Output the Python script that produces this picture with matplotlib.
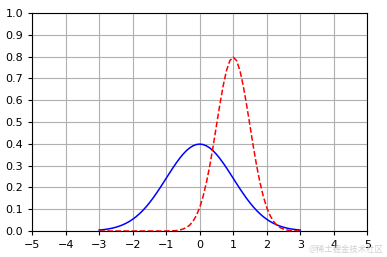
import matplotlib.pyplot as plt
import numpy as np

# sample positions (x) and curve heights
x = np.round(np.arange(-3.0, 3.01, 0.1), 1)
y_blue = [0.0044, 0.0060, 0.0079, 0.0104, 0.0136, 0.0175, 0.0224, 0.0283, 0.0355, 0.0440,
          0.0540, 0.0656, 0.0790, 0.0940, 0.1109, 0.1295, 0.1497, 0.1714, 0.1942, 0.2179,
          0.2420, 0.2661, 0.2897, 0.3123, 0.3332, 0.3521, 0.3683, 0.3814, 0.3910, 0.3970,
          0.3989,
          0.3970, 0.3910, 0.3814, 0.3683, 0.3521, 0.3332, 0.3123, 0.2897, 0.2661, 0.2420,
          0.2179, 0.1942, 0.1714, 0.1497, 0.1295, 0.1109, 0.0940, 0.0790, 0.0656, 0.0540,
          0.0440, 0.0355, 0.0283, 0.0224, 0.0175, 0.0136, 0.0104, 0.0079, 0.0060, 0.0044]
y_red = [0.000, 0.000, 0.000, 0.000, 0.000, 0.000, 0.000, 0.000, 0.000, 0.000,
         0.000, 0.000, 0.000, 0.000, 0.000, 0.000, 0.000, 0.000, 0.000, 0.000,
         0.000, 0.001, 0.001, 0.002, 0.005, 0.009, 0.016, 0.027, 0.045, 0.071,
         0.108,
         0.158, 0.222, 0.299, 0.388, 0.484, 0.579, 0.666, 0.737, 0.782, 0.798,
         0.782, 0.737, 0.666, 0.579, 0.484, 0.388, 0.299, 0.222, 0.158, 0.108,
         0.071, 0.045, 0.027, 0.016, 0.009, 0.005, 0.002, 0.001, 0.001, 0.000]

xticks = np.arange(-5, 6, 1)
yticks = np.round(np.arange(0, 1.01, 0.1), 1)

fig = plt.figure(figsize=(3.87, 2.57), dpi=100)
ax = fig.add_axes([0.083, 0.101, 0.866, 0.848])

ax.plot(x, y_blue, 'b-', linewidth=1.1)
ax.plot(x, y_red, 'r--', linewidth=1.1)

ax.set_xlim(-5, 5)
ax.set_ylim(0, 1)
ax.set_xticks(xticks)
ax.set_yticks(yticks)
ax.tick_params(labelsize=8, length=3)
ax.grid(True, color='#b0b0b0', linewidth=0.8)

# watermark from the source image
fig.text(0.99, 0.012, '@稀土掘金技术社区', ha='right', va='bottom', fontsize=6,
         color='#d0d0d0', family=['Noto Sans CJK SC', 'DejaVu Sans'])

fig.savefig('out.png', dpi=100)
